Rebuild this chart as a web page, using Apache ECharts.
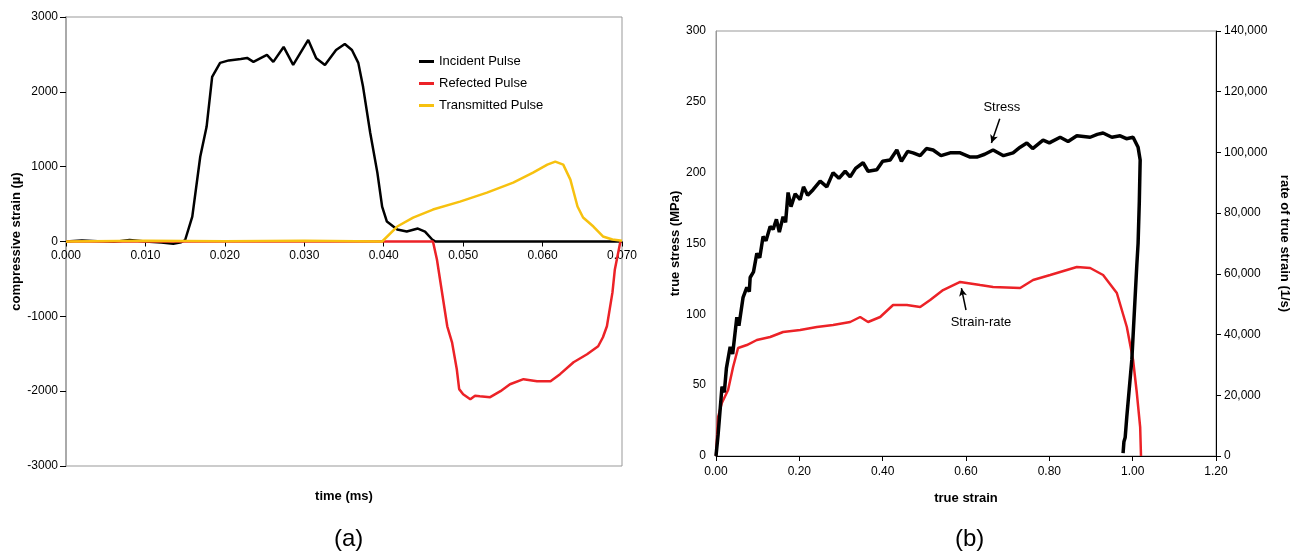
<!DOCTYPE html>
<html>
<head>
<meta charset="utf-8">
<script src="https://cdn.jsdelivr.net/npm/echarts@6/dist/echarts.min.js"></script>
<style>
  html, body { margin: 0; padding: 0; background: #fff; }
  #chart { width: 1294px; height: 556px; }
</style>
</head>
<body>
<div id="chart"></div>
<script>
// panel (a): strain gauge pulses, [time ms, strain µ]
const incidentPulse = [
  [0, 0], [0.002, 15], [0.004, 5], [0.006, -5], [0.008, 20], [0.010, 0], [0.012, -15],
  [0.0135, -30], [0.0145, -10], [0.0150, 20], [0.0159, 333], [0.0169, 1133], [0.0177, 1533],
  [0.0184, 2200], [0.0194, 2387], [0.0205, 2420], [0.0220, 2440], [0.0228, 2453], [0.0236, 2400],
  [0.0245, 2450], [0.0253, 2493], [0.0261, 2400], [0.0274, 2600], [0.0286, 2360], [0.0305, 2693],
  [0.0315, 2450], [0.0326, 2360], [0.0340, 2560], [0.0351, 2640], [0.0360, 2560], [0.0368, 2387],
  [0.0374, 2067], [0.0383, 1453], [0.0392, 920], [0.0398, 467], [0.0404, 267], [0.0417, 160],
  [0.0429, 133], [0.0443, 173], [0.0452, 133], [0.0461, 27], [0.0465, 0], [0.070, 0]
]
const reflectedPulse = [
  [0, 0], [0.0462, 0], [0.0467, -240], [0.0480, -1133], [0.0486, -1347], [0.0492, -1707],
  [0.0495, -1973], [0.0500, -2040], [0.0509, -2107], [0.0515, -2060], [0.0521, -2067],
  [0.0534, -2080], [0.0547, -2000], [0.0559, -1907], [0.0576, -1840], [0.0593, -1867],
  [0.0610, -1867], [0.0622, -1773], [0.0639, -1613], [0.0656, -1507], [0.0670, -1400],
  [0.0676, -1280], [0.0681, -1133], [0.0688, -680], [0.0691, -373], [0.0698, 0]
]
const transmittedPulse = [
  [0, 0], [0.010, 10], [0.020, 5], [0.030, 10], [0.0398, 0], [0.0417, 200], [0.0437, 320],
  [0.0462, 427], [0.0496, 533], [0.0530, 653], [0.0563, 787], [0.0588, 920], [0.0606, 1027],
  [0.0616, 1067], [0.0626, 1027], [0.0635, 827], [0.0644, 467], [0.0651, 320], [0.0664, 200],
  [0.0676, 67], [0.0688, 27], [0.070, 10]
]

// panel (b): [true strain, true stress MPa] and [true strain, strain rate 1/s]
const stressCurve = [
  [0, 0], [0.005, 15], [0.0144, 49], [0.02, 45], [0.025, 62], [0.034, 77], [0.04, 72], [0.05, 98],
  [0.055, 92], [0.065, 112], [0.074, 119], [0.08, 116], [0.082, 126], [0.09, 130], [0.098, 143],
  [0.105, 140], [0.113, 155], [0.12, 152], [0.13, 162], [0.137, 160], [0.145, 167], [0.152, 158],
  [0.161, 169], [0.167, 165], [0.173, 186], [0.18, 176], [0.19, 185], [0.202, 181], [0.21, 190],
  [0.22, 184], [0.233, 188], [0.25, 194], [0.266, 190], [0.281, 200], [0.295, 196], [0.31, 201],
  [0.322, 197], [0.335, 203], [0.353, 207], [0.365, 201], [0.386, 202], [0.4, 208], [0.418, 209],
  [0.434, 216], [0.445, 208], [0.46, 215], [0.473, 214], [0.49, 212], [0.505, 217], [0.521, 216],
  [0.54, 212], [0.562, 214], [0.586, 214], [0.61, 211], [0.626, 211], [0.645, 213], [0.665, 216],
  [0.69, 212], [0.713, 214], [0.73, 218], [0.746, 221], [0.76, 217], [0.785, 223], [0.8, 221],
  [0.826, 225], [0.845, 222], [0.866, 226], [0.898, 225], [0.915, 227], [0.929, 228], [0.95, 225],
  [0.97, 226], [0.985, 224], [1.001, 225], [1.013, 218], [1.018, 209], [1.016, 180], [1.013, 150],
  [1.010, 135], [0.998, 68], [0.986, 28], [0.982, 13], [0.979, 10], [0.977, 2]
]
const strainRateCurve = [
  [0, 0], [0.005, 12800], [0.014, 17460], [0.029, 21740], [0.041, 29300], [0.053, 35580],
  [0.074, 36560], [0.098, 38210], [0.13, 39200], [0.161, 40850], [0.202, 41500], [0.242, 42500],
  [0.281, 43150], [0.322, 44140], [0.346, 45790], [0.365, 44140], [0.394, 45790], [0.425, 49740],
  [0.458, 49740], [0.49, 49080], [0.514, 51390], [0.545, 54680], [0.586, 57320], [0.634, 56300],
  [0.665, 55670], [0.73, 55340], [0.761, 57970], [0.802, 59620], [0.842, 61270], [0.866, 62260],
  [0.898, 61930], [0.929, 59620], [0.962, 53690], [0.986, 42500], [1.001, 31620], [1.010, 20750],
  [1.018, 9550], [1.02, 0]
]

const font = "'Liberation Sans', Arial, sans-serif"
const chart = echarts.init(document.getElementById('chart'))

const tickLabel = { color: '#000', fontSize: 12, fontFamily: font }
const axisName = { color: '#000', fontSize: 13, fontWeight: 'bold', fontFamily: font }

const option = {
  animation: false,
  textStyle: { fontFamily: font },
  grid: [
    { left: 66, top: 17, width: 556, height: 449, show: true, borderColor: '#999', borderWidth: 1, outerBoundsMode: 'none' },
    { left: 716, top: 31, width: 500, height: 425, show: true, borderColor: '#999', borderWidth: 1, outerBoundsMode: 'none' }
  ],
  legend: {
    data: ['Incident Pulse', 'Refected Pulse', 'Transmitted Pulse'],
    orient: 'vertical',
    left: 414,
    top: 50,
    icon: 'rect',
    itemWidth: 15,
    itemHeight: 3,
    itemGap: 9,
    textStyle: { color: '#000', fontSize: 13, fontFamily: font }
  },
  xAxis: [
    {
      // time axis crosses at strain 0, the middle of the 449px high plot
      gridIndex: 0, type: 'value', min: 0, max: 0.07, interval: 0.01,
      offset: -224.5,
      name: 'time (ms)', nameLocation: 'middle', nameGap: 248, nameTextStyle: axisName,
      axisLine: { onZero: false, lineStyle: { color: '#999', width: 1 } },
      axisTick: { show: true, length: 5, lineStyle: { color: '#000' } },
      axisLabel: { ...tickLabel, formatter: v => v.toFixed(3) },
      splitLine: { show: false }
    },
    {
      gridIndex: 1, type: 'value', min: 0, max: 1.2, interval: 0.2,
      name: 'true strain', nameLocation: 'middle', nameGap: 36, nameTextStyle: axisName,
      axisLine: { lineStyle: { color: '#000', width: 1 } },
      axisTick: { show: true, length: 5, lineStyle: { color: '#000' } },
      axisLabel: { ...tickLabel, margin: 10, formatter: v => v.toFixed(2) },
      splitLine: { show: false }
    }
  ],
  yAxis: [
    {
      gridIndex: 0, type: 'value', min: -3000, max: 3000, interval: 1000,
      name: 'compressive strain (µ)', nameLocation: 'middle', nameGap: 42, nameTextStyle: axisName,
      axisLine: { show: true, lineStyle: { color: '#aaa', width: 2 } },
      axisTick: { show: true, length: 6, lineStyle: { color: '#000' } },
      axisLabel: { ...tickLabel, margin: 8, formatter: v => String(v) },
      splitLine: { show: false }
    },
    {
      gridIndex: 1, type: 'value', min: 0, max: 300, interval: 50,
      name: 'true stress (MPa)', nameLocation: 'middle', nameGap: 33, nameTextStyle: axisName,
      axisLine: { show: true, lineStyle: { color: '#999', width: 1 } },
      axisTick: { show: false },
      axisLabel: { ...tickLabel, margin: 10 },
      splitLine: { show: false }
    },
    {
      gridIndex: 1, type: 'value', position: 'right', min: 0, max: 140000, interval: 20000,
      name: 'rate of true strain (1/s)', nameLocation: 'middle', nameGap: 62, nameRotate: -90,
      nameTextStyle: axisName,
      axisLine: { show: true, lineStyle: { color: '#000', width: 1 } },
      axisTick: { show: true, length: 5, lineStyle: { color: '#000' } },
      axisLabel: { ...tickLabel, margin: 8, formatter: v => v.toLocaleString('en-US') },
      splitLine: { show: false }
    }
  ],
  series: [
    {
      name: 'Incident Pulse', type: 'line', xAxisIndex: 0, yAxisIndex: 0,
      data: incidentPulse, showSymbol: false, color: '#000',
      lineStyle: { color: '#000', width: 2.5 }
    },
    {
      name: 'Refected Pulse', type: 'line', xAxisIndex: 0, yAxisIndex: 0,
      data: reflectedPulse, showSymbol: false, color: '#ec2227',
      lineStyle: { color: '#ec2227', width: 2.5 }
    },
    {
      name: 'Transmitted Pulse', type: 'line', xAxisIndex: 0, yAxisIndex: 0,
      data: transmittedPulse, showSymbol: false, color: '#f7c10f',
      lineStyle: { color: '#f7c10f', width: 2.5 }
    },
    {
      name: 'Strain-rate', type: 'line', xAxisIndex: 1, yAxisIndex: 2,
      data: strainRateCurve, showSymbol: false,
      lineStyle: { color: '#ec2227', width: 2.5 },
      markPoint: {
        symbol: 'circle', symbolSize: 0,
        label: { show: true, color: '#000', fontSize: 13, fontFamily: font, formatter: 'Strain-rate' },
        data: [{ coord: [0.636, 44140] }]
      },
      markLine: {
        silent: true, symbol: ['none', 'arrow'], symbolSize: [6, 8],
        label: { show: false },
        lineStyle: { color: '#000', width: 1.5, type: 'solid' },
        data: [[{ coord: [0.600, 48090] }, { coord: [0.589, 55300] }]]
      }
    },
    {
      name: 'Stress', type: 'line', xAxisIndex: 1, yAxisIndex: 1,
      data: stressCurve, showSymbol: false,
      lineStyle: { color: '#000', width: 3.5 },
      markPoint: {
        symbol: 'circle', symbolSize: 0,
        label: { show: true, color: '#000', fontSize: 13, fontFamily: font, formatter: 'Stress' },
        data: [{ coord: [0.686, 246] }]
      },
      markLine: {
        silent: true, symbol: ['none', 'arrow'], symbolSize: [6, 8],
        label: { show: false },
        lineStyle: { color: '#000', width: 1.5, type: 'solid' },
        data: [[{ coord: [0.681, 238] }, { coord: [0.661, 221] }]]
      }
    }
  ],
  graphic: [
    { type: 'text', left: 334, top: 527, style: { text: '(a)', fontSize: 24, fontFamily: font, fill: '#000' } },
    { type: 'text', left: 955, top: 527, style: { text: '(b)', fontSize: 24, fontFamily: font, fill: '#000' } }
  ]
}

chart.setOption(option)
window.addEventListener('resize', () => chart.resize())
</script>
</body>
</html>
